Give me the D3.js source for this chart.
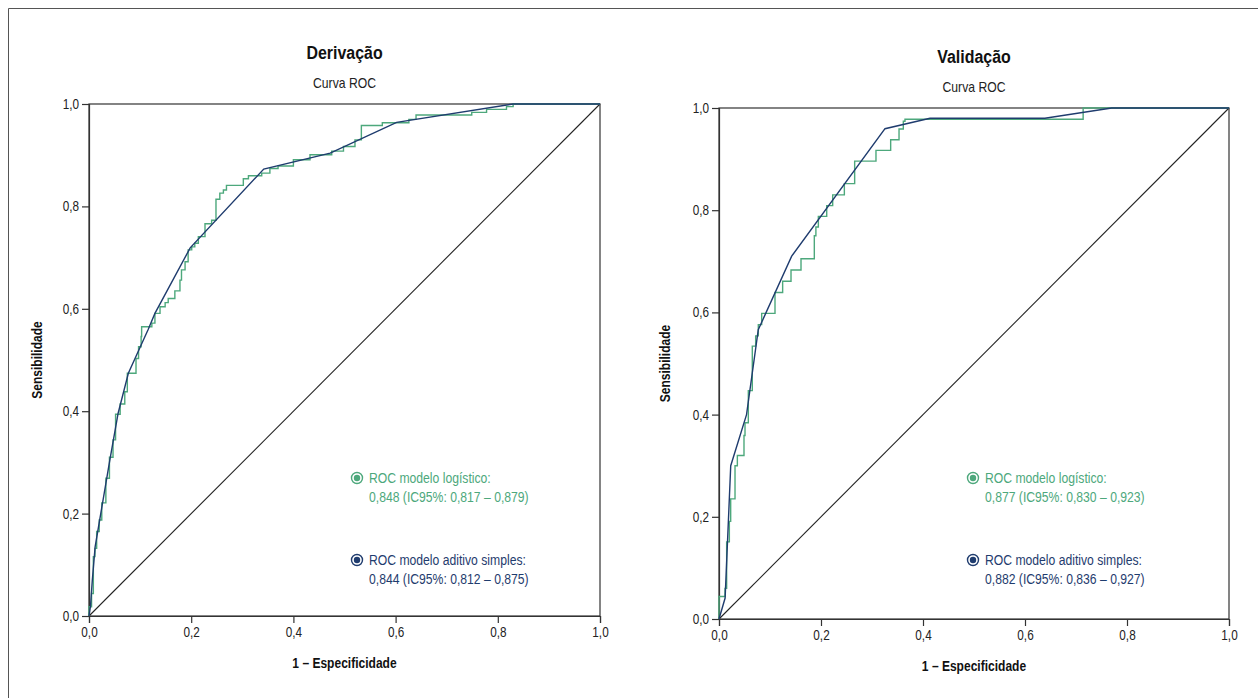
<!DOCTYPE html>
<html><head><meta charset="utf-8">
<script src="https://cdn.jsdelivr.net/npm/d3@7"></script>
<style>
body{margin:0;background:#fff;}
text{font-family:"Liberation Sans",Arial,sans-serif;}
</style></head>
<body><svg id="c" width="1258" height="698"></svg>
<script>
// ---------- data ----------
const panelTitles = ["Derivação", "Validação"];
const subtitle = "Curva ROC";
const xAxisTitle = "1 – Especificidade";
const yAxisTitle = "Sensibilidade";
const tickValues = [0, 0.2, 0.4, 0.6, 0.8, 1.0];
const tickLabels = ["0,0", "0,2", "0,4", "0,6", "0,8", "1,0"];
const seriesNames = ["ROC modelo logístico:", "ROC modelo aditivo simples:"];
const aucLabelsDeriv = ["0,848 (IC95%: 0,817 – 0,879)", "0,844 (IC95%: 0,812 – 0,875)"];
const aucLabelsValid = ["0,877 (IC95%: 0,830 – 0,923)", "0,882 (IC95%: 0,836 – 0,927)"];

// Derivação – logistic model (step ROC): 1-specificity, sensitivity
const derivLogFpr = [0,0,0.005,0.0085,0.0117,0.015,0.020,0.025,0.033,0.040,0.047,0.052,0.061,0.070,0.075,0.092,0.097,0.102,0.103,0.123,0.129,0.139,0.149,0.155,0.168,0.178,0.181,0.188,0.194,0.201,0.207,0.214,0.227,0.240,0.2485,0.256,0.263,0.269,0.302,0.312,0.338,0.354,0.370,0.400,0.4325,0.475,0.498,0.5205,0.533,0.574,0.626,0.640,0.749,0.778,0.817,0.830,1.0];
const derivLogTpr = [0,0.018,0.044,0.116,0.132,0.165,0.1875,0.221,0.269,0.310,0.344,0.394,0.414,0.438,0.474,0.503,0.526,0.546,0.565,0.572,0.591,0.604,0.612,0.620,0.635,0.656,0.676,0.692,0.715,0.721,0.728,0.741,0.766,0.773,0.814,0.826,0.832,0.841,0.854,0.860,0.865,0.874,0.879,0.891,0.901,0.908,0.917,0.930,0.958,0.9635,0.970,0.9785,0.9837,0.9896,0.9948,1.0,1.0];
// Derivação – simple additive model
const derivAddFpr = [0,0.003,0.0065,0.012,0.023,0.040,0.057,0.077,0.100,0.116,0.129,0.198,0.342,0.472,0.602,0.830,1.0];
const derivAddTpr = [0,0.020,0.070,0.135,0.200,0.300,0.396,0.474,0.525,0.560,0.591,0.719,0.873,0.904,0.964,1.0,1.0];

// Validação – logistic model (step ROC)
const validLogFpr = [0,0,0.0118,0.015,0.0203,0.0229,0.0314,0.036,0.049,0.051,0.0575,0.0653,0.0719,0.0771,0.0837,0.1098,0.1248,0.1412,0.1608,0.1869,0.190,0.1948,0.2112,0.2229,0.2458,0.266,0.3078,0.3366,0.353,0.3614,0.3647,0.714,1.0];
const validLogTpr = [0,0.044,0.060,0.151,0.191,0.235,0.300,0.320,0.359,0.384,0.447,0.534,0.554,0.576,0.598,0.639,0.661,0.683,0.705,0.750,0.767,0.788,0.809,0.830,0.852,0.896,0.917,0.938,0.959,0.974,0.978,1.0,1.0];
// Validação – simple additive model
const validAddFpr = [0,0.012,0.023,0.054,0.077,0.1425,0.3255,0.4137,0.639,0.770,1.0];
const validAddTpr = [0,0.041,0.300,0.400,0.566,0.710,0.9595,0.980,0.980,1.0,1.0];

// ---------- style / layout ----------
const colors = ["#4da87c", "#1f3c6e"];
const panels = [
  {title: panelTitles[0], x0: 89, x1: 600, top: 104, bottom: 616, legX: 357, auc: aucLabelsDeriv,
   log: d3.zip(derivLogFpr, derivLogTpr), add: d3.zip(derivAddFpr, derivAddTpr), yTitleX: 42},
  {title: panelTitles[1], x0: 719, x1: 1229, top: 108, bottom: 619, legX: 973, auc: aucLabelsValid,
   log: d3.zip(validLogFpr, validLogTpr), add: d3.zip(validAddFpr, validAddTpr), yTitleX: 670}
];

const svg = d3.select("#c");
// outer frame
svg.append("line").attr("x1", 8.5).attr("x2", 1258).attr("y1", 8.5).attr("y2", 8.5).attr("stroke", "#555");
svg.append("line").attr("x1", 8.5).attr("x2", 8.5).attr("y1", 8.5).attr("y2", 698).attr("stroke", "#555");

// condensed text helper (narrow face emulation)
function ntext(g, x, y, str, size, sx, opts = {}) {
  const t = g.append("text")
    .attr("transform", `translate(${x},${y})${opts.rotate ? " rotate(" + opts.rotate + ")" : ""} scale(${sx},1)`)
    .attr("font-size", size).attr("fill", opts.fill || "#111")
    .attr("text-anchor", opts.anchor || "start").text(str);
  if (opts.bold) t.attr("font-weight", "bold");
  return t;
}

panels.forEach(p => {
  const x = d3.scaleLinear().domain([0, 1]).range([p.x0, p.x1]);
  const y = d3.scaleLinear().domain([0, 1]).range([p.bottom, p.top]);
  const g = svg.append("g");
  const cx = (p.x0 + p.x1) / 2;

  ntext(g, cx, p.top - 45, p.title, 19, 0.84, {anchor: "middle", bold: true});
  ntext(g, cx, p.top - 16, subtitle, 14.5, 0.84, {anchor: "middle", fill: "#222"});

  // frame of plot
  g.append("rect").attr("x", p.x0).attr("y", p.top).attr("width", p.x1 - p.x0).attr("height", p.bottom - p.top)
    .attr("fill", "none").attr("stroke", "#333").attr("stroke-width", 1.2);

  // diagonal reference
  g.append("line").attr("x1", x(0)).attr("y1", y(0)).attr("x2", x(1)).attr("y2", y(1))
    .attr("stroke", "#222").attr("stroke-width", 1.1);

  // axes
  const sx = 0.84;
  const xAxis = d3.axisBottom(x).tickValues(tickValues).tickFormat((d, i) => tickLabels[i]).tickSize(7).tickPadding(4);
  const yAxis = d3.axisLeft(y).tickValues(tickValues).tickFormat((d, i) => tickLabels[i]).tickSize(7).tickPadding(3);
  const gx = g.append("g").attr("transform", `translate(0,${p.bottom})`).call(xAxis);
  const gy = g.append("g").attr("transform", `translate(${p.x0},0)`).call(yAxis);
  [gx, gy].forEach(a => {
    a.select(".domain").attr("stroke", "#333").attr("stroke-width", 1.2);
    a.selectAll(".tick line").attr("stroke", "#333").attr("stroke-width", 1.2);
    a.selectAll(".tick text").attr("font-size", 14).attr("fill", "#222")
      .style("font-family", '"Liberation Sans",Arial,sans-serif')
      .attr("transform", `scale(${sx},1)`);
  });
  gy.selectAll(".tick text").attr("x", -10 / sx);

  ntext(g, cx, p.bottom + 52, xAxisTitle, 14, 0.86, {anchor: "middle", bold: true});
  ntext(g, p.yTitleX, (p.top + p.bottom) / 2, yAxisTitle, 14, 0.86, {anchor: "middle", bold: true, rotate: -90});

  // curves
  const stepLine = d3.line().x(d => x(d[0])).y(d => y(d[1])).curve(d3.curveStepAfter);
  const polyLine = d3.line().x(d => x(d[0])).y(d => y(d[1]));
  g.append("path").attr("d", stepLine(p.log)).attr("fill", "none").attr("stroke", colors[0]).attr("stroke-width", 1.4);
  g.append("path").attr("d", polyLine(p.add)).attr("fill", "none").attr("stroke", colors[1]).attr("stroke-width", 1.4);

  // legend
  const legY = [478, 560];
  [0, 1].forEach(i => {
    const ly = legY[i];
    g.append("circle").attr("cx", p.legX).attr("cy", ly).attr("r", 5.5).attr("fill", "none")
      .attr("stroke", colors[i]).attr("stroke-width", 1.4);
    g.append("circle").attr("cx", p.legX).attr("cy", ly).attr("r", 3.2).attr("fill", colors[i]);
    ntext(g, p.legX + 12, ly + 5, seriesNames[i], 14, 0.87, {fill: colors[i]});
    ntext(g, p.legX + 12, ly + 24, p.auc[i], 14, 0.87, {fill: colors[i]});
  });
});
</script></body></html>
